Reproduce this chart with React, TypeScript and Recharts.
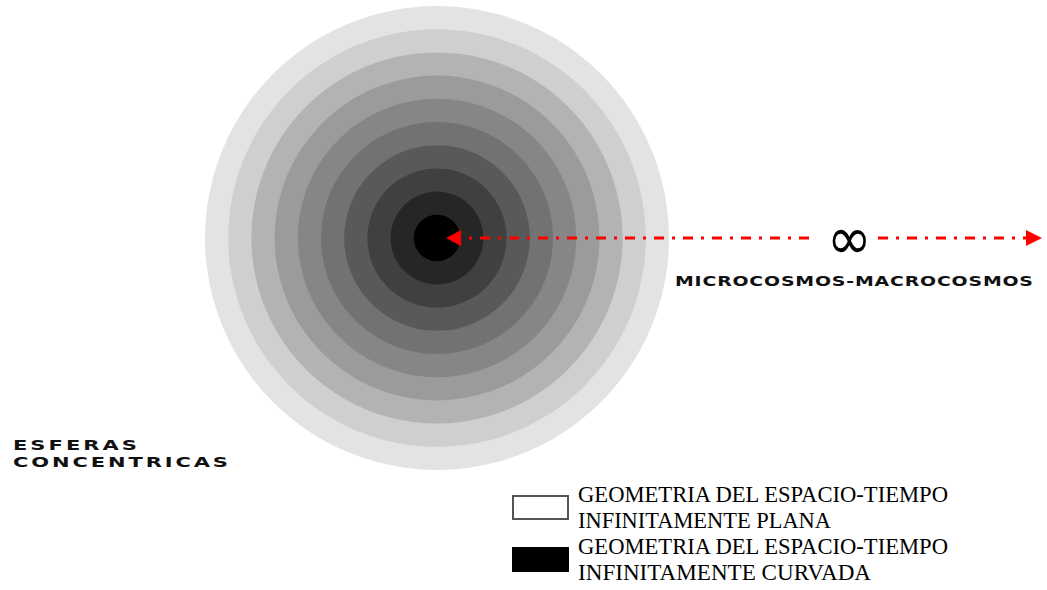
import { PieChart, Pie, Cell, Legend } from "recharts"

// concentric spheres, outermost first
const rings = ["10", "9", "8", "7", "6", "5", "4", "3", "2", "1"]
const shades = [
  "#e3e3e3",
  "#cfcfcf",
  "#b3b3b3",
  "#9b9b9b",
  "#868686",
  "#727272",
  "#595959",
  "#404040",
  "#262626",
  "#000000",
]

const axisLabel = "MICROCOSMOS-MACROCOSMOS"
const sphereLabel = ["ESFERAS", "CONCENTRICAS"]
const legendItems = [
  { lines: ["GEOMETRIA DEL ESPACIO-TIEMPO", "INFINITAMENTE PLANA"], fill: "#ffffff" },
  { lines: ["GEOMETRIA DEL ESPACIO-TIEMPO", "INFINITAMENTE CURVADA"], fill: "#000000" },
]

const W = 1047
const H = 590
const CX = 437
const CY = 238
const STEP = 23.2

const wideFont = "'DejaVu Sans', sans-serif"
const serif = "'Liberation Serif', 'Times New Roman', serif"

// extended caps: glyphs widened, then spaced out to the given width
function WideText(props: { x: number; y: number; width: number; size: number; sx: number; children: string }) {
  const { x, y, width, size, sx, children } = props
  return (
    <text
      transform={`translate(${x}, ${y}) scale(${sx}, 1)`}
      fontFamily={wideFont}
      fontWeight="bold"
      fontSize={size}
      textLength={width / sx}
      lengthAdjust="spacing"
      fill="#111"
    >
      {children}
    </text>
  )
}

function Annotations() {
  const y = CY
  return (
    <svg
      width={W}
      height={H}
      style={{ position: "absolute", left: 0, top: 0, pointerEvents: "none" }}
    >
      {/* dash-dot arrow from the core to infinity */}
      <line
        x1={461}
        y1={y}
        x2={815}
        y2={y}
        stroke="#ff0000"
        strokeWidth={3}
        strokeDasharray="10 8 3 8"
        strokeDashoffset={10}
      />
      <line x1={878} y1={y} x2={1026} y2={y} stroke="#ff0000" strokeWidth={3} strokeDasharray="10 8 3 8" />
      <polygon points={`446,${y} 461,${y - 8} 461,${y + 8}`} fill="#ff0000" />
      <polygon points={`1042,${y} 1026,${y - 8} 1026,${y + 8}`} fill="#ff0000" />
      <text
        x={827}
        y={y}
        dominantBaseline="central"
        fontFamily={wideFont}
        fontSize={60}
        textLength={45}
        lengthAdjust="spacingAndGlyphs"
        fill="#000"
      >
        ∞
      </text>
      <WideText x={675} y={286} width={358} size={13.5} sx={1.4}>
        {axisLabel}
      </WideText>
      <WideText x={13} y={450} width={124} size={14.5} sx={1.45}>
        {sphereLabel[0]}
      </WideText>
      <WideText x={13} y={467} width={215} size={14.5} sx={1.45}>
        {sphereLabel[1]}
      </WideText>
    </svg>
  )
}

function LegendBox() {
  const widths = [[370, 253], [370, 293]]
  return (
    <svg width={470} height={110}>
      {legendItems.map((item, i) => (
        <g key={i} transform={`translate(0, ${i * 52})`}>
          <rect
            x={8}
            y={16}
            width={55}
            height={23}
            fill={item.fill}
            stroke={item.fill === "#000000" ? "#000" : "#555"}
            strokeWidth={2}
          />
          {item.lines.map((line, j) => (
            <text
              key={j}
              x={73}
              y={22 + j * 26}
              fontFamily={serif}
              fontSize={24}
              textLength={widths[i][j]}
              lengthAdjust="spacingAndGlyphs"
              fill="#000"
            >
              {line}
            </text>
          ))}
        </g>
      ))}
    </svg>
  )
}

export default function App() {
  return (
    <div style={{ position: "absolute", left: 0, top: 0, width: W, height: H, background: "#fff" }}>
      <PieChart width={W} height={H} margin={{ top: 0, right: 0, bottom: 0, left: 0 }}>
        {rings.map((r, i) => (
          <Pie
            key={r}
            data={[{ name: r, value: 1 }]}
            dataKey="value"
            cx={CX}
            cy={CY}
            innerRadius={0}
            outerRadius={(rings.length - i) * STEP}
            stroke="none"
            isAnimationActive={false}
            legendType="none"
          >
            <Cell fill={shades[i]} />
          </Pie>
        ))}
        <Legend
          content={() => <LegendBox />}
          wrapperStyle={{ position: "absolute", left: 505, top: 480, width: 470, height: 110 }}
        />
      </PieChart>
      <Annotations />
    </div>
  )
}
